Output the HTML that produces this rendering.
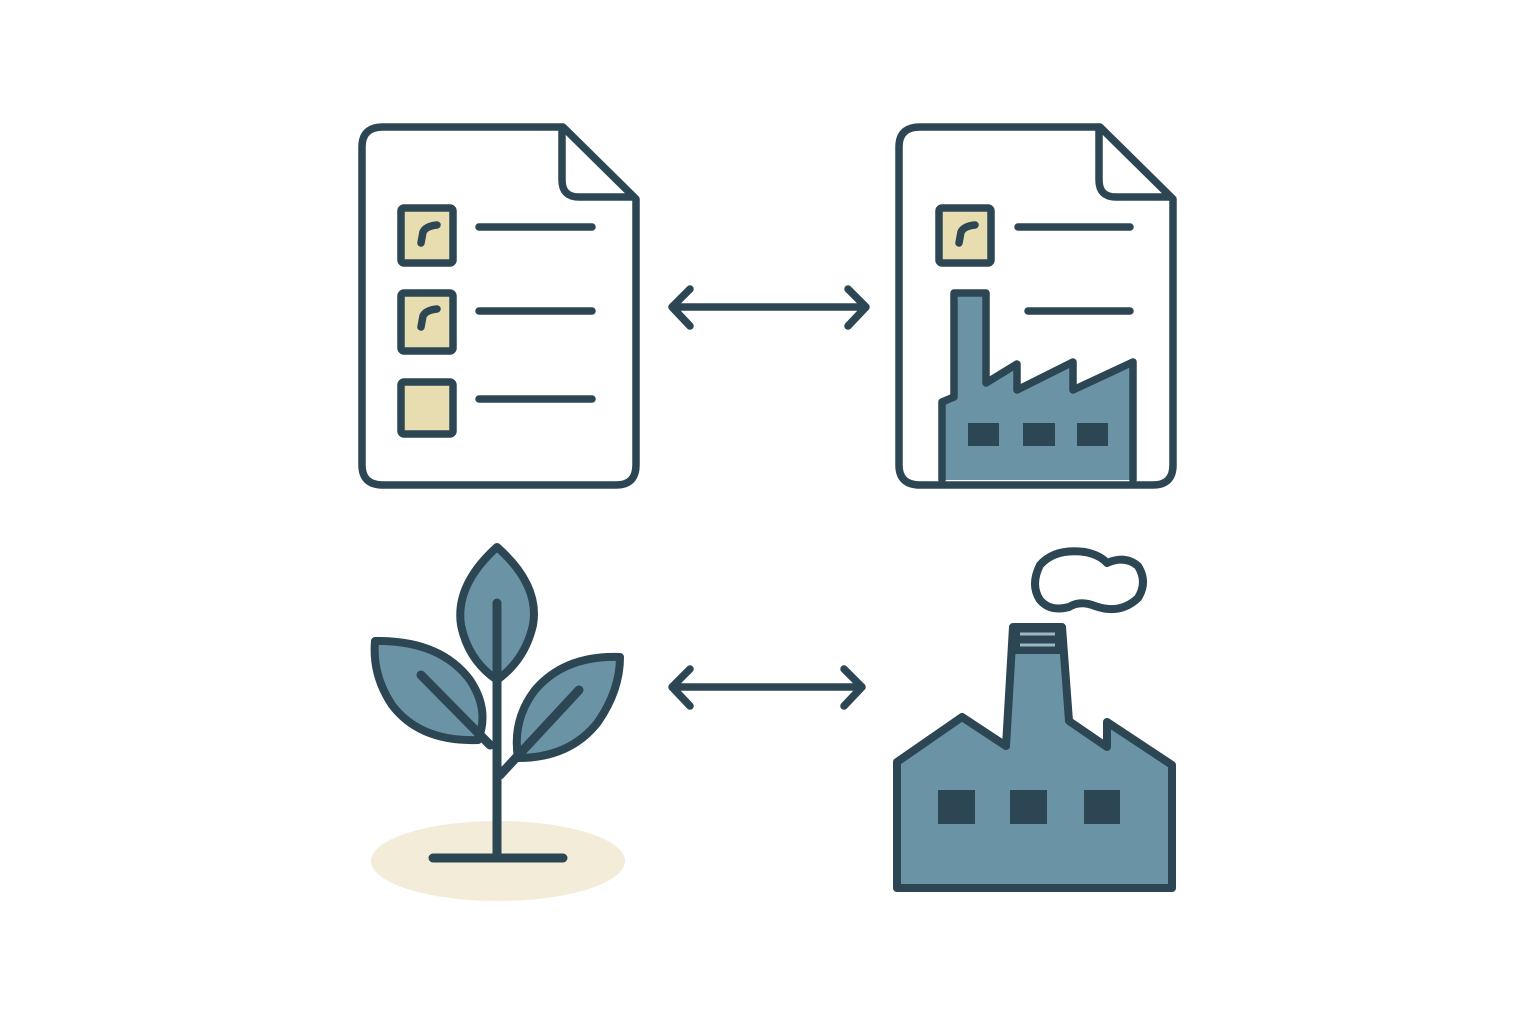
<!DOCTYPE html>
<html><head><style>body{margin:0;background:#fff}svg{display:block}</style></head><body>
<svg width="1536" height="1024" viewBox="0 0 1536 1024" xmlns="http://www.w3.org/2000/svg">
<g fill="none" stroke="#2c4653" stroke-width="7.5" stroke-linecap="round" stroke-linejoin="round">
<path d="M383 127 H563 L636 199 V465 Q636 485 616 485 H383 Q362 485 362 465 V147 Q362 127 383 127 Z" fill="#fff"/>
<path d="M562 130 V180 Q562 197 579 197 H633"/>
<rect x="401" y="208" width="52" height="55" rx="3" fill="#e8ddb0"/>
<rect x="401" y="293" width="52" height="58" rx="3" fill="#e8ddb0"/>
<rect x="401" y="382" width="52" height="52" rx="3" fill="#e8ddb0"/>
<path d="M421 243 L423 232 Q426 226 437 225" /><path d="M421 327 L423 316 Q426 310 437 309"/>
<path d="M479 227 H592 M479 311 H592 M479 399 H592"/>
<path d="M920 127 H1100 L1173 199 V465 Q1173 485 1153 485 H920 Q899 485 899 465 V147 Q899 127 920 127 Z" fill="#fff"/>
<path d="M1099 130 V180 Q1099 197 1116 197 H1170"/>
<rect x="939" y="208" width="52" height="55" rx="3" fill="#e8ddb0"/>
<path d="M959 243 L961 232 Q964 226 975 225"/>
<path d="M1018 227 H1130 M1028 311 H1130"/>
<path d="M942 480 V402 L954 397 V293 H986 V383 L1017 364 V390 L1073 362 V390 L1133 362 V480" fill="#6a94a5"/>
<path d="M672 307 H866 M690 289 L672 307 L690 326 M848 289 L866 307 L848 326"/>
<path d="M672 687 H862 M690 669 L672 687 L690 706 M844 669 L862 687 L844 706"/>
</g>
<g fill="#2c4653">
<rect x="968" y="423" width="31" height="23"/><rect x="1023" y="423" width="32" height="23"/><rect x="1077" y="423" width="31" height="23"/>
</g>
<ellipse cx="498" cy="861" rx="127" ry="40" fill="#f3ecd8"/>
<g fill="#6a94a5" stroke="#2c4653" stroke-width="8" stroke-linecap="round" stroke-linejoin="round">
<path d="M497 547 Q540 585 533 625 Q525 660 497 680 Q468 660 461 625 Q455 585 497 547 Z"/>
<path d="M375 641 Q440 640 470 680 Q490 710 478 740 Q420 742 392 705 Q372 675 375 641 Z"/>
<path d="M620 657 Q565 655 535 690 Q512 720 518 758 Q570 758 598 722 Q620 690 620 657 Z"/>
<path d="M497 603 V858 M433 858 H563 M421 675 L490 745 M579 690 L500 775" fill="none" stroke-width="9"/>
</g>
<g stroke="#2c4653" stroke-width="8" stroke-linecap="round" stroke-linejoin="round">
<path d="M897 888 V762 L962 717 L1006 746 L1013 627 H1062 L1069 721 L1107 747 V722 L1172 765 V888 Z" fill="#6a94a5"/>
<path d="M1015 629 H1060 V650 H1015 Z" fill="#2c4653"/>
<path d="M1069 607 Q1050 612 1040 600 Q1030 585 1040 565 Q1055 548 1085 552 Q1100 555 1107 563 Q1125 555 1138 566 Q1148 582 1138 598 Q1120 615 1095 606 Q1080 600 1069 607 Z" fill="none"/>
</g>
<g stroke="#9cb8c4" stroke-width="3"><path d="M1020 634 H1055 M1020 645 H1055"/></g>
<g fill="#2c4653">
<rect x="938" y="790" width="37" height="34"/><rect x="1010" y="790" width="37" height="34"/><rect x="1084" y="790" width="36" height="34"/>
</g>
</svg>
</body></html>
